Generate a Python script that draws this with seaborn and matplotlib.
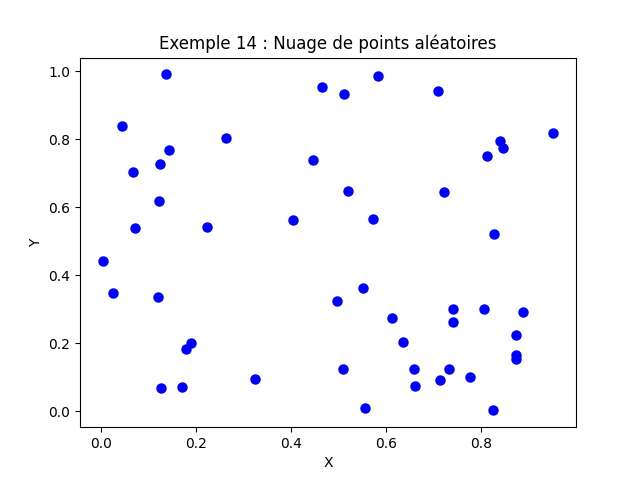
import matplotlib
matplotlib.use("Agg")
import matplotlib.pyplot as plt
import seaborn as sns
import pandas as pd

#values
x_vals = [0.137, 0.044, 0.465, 0.512, 0.583, 0.709, 0.952, 0.840, 0.846, 0.813,
          0.263, 0.143, 0.124, 0.069, 0.446, 0.520, 0.722, 0.122, 0.573, 0.404,
          0.072, 0.223, 0.827, 0.004, 0.027, 0.120, 0.552, 0.497, 0.741, 0.806,
          0.888, 0.613, 0.741, 0.874, 0.636, 0.189, 0.179, 0.874, 0.874, 0.509,
          0.659, 0.733, 0.714, 0.777, 0.324, 0.661, 0.126, 0.171, 0.556, 0.825]
y_vals = [0.991, 0.838, 0.953, 0.932, 0.985, 0.941, 0.818, 0.794, 0.776, 0.750,
          0.803, 0.768, 0.729, 0.703, 0.738, 0.647, 0.644, 0.618, 0.565, 0.562,
          0.538, 0.541, 0.521, 0.441, 0.347, 0.335, 0.362, 0.324, 0.300, 0.300,
          0.291, 0.276, 0.262, 0.226, 0.203, 0.200, 0.185, 0.165, 0.153, 0.124,
          0.124, 0.126, 0.091, 0.100, 0.094, 0.076, 0.068, 0.071, 0.009, 0.003]

df = pd.DataFrame({"x": x_vals, "y": y_vals})

fig, ax = plt.subplots(figsize=(6.4, 4.8), dpi=100)
sns.scatterplot(data=df, x="x", y="y", color="blue", edgecolor="blue", linewidth=1.5, s=36, ax=ax)
ax.set_title("Exemple 14 : Nuage de points aléatoires")
ax.set_xlabel("X")
ax.set_ylabel("Y")
plt.savefig("out.png", dpi=100)
